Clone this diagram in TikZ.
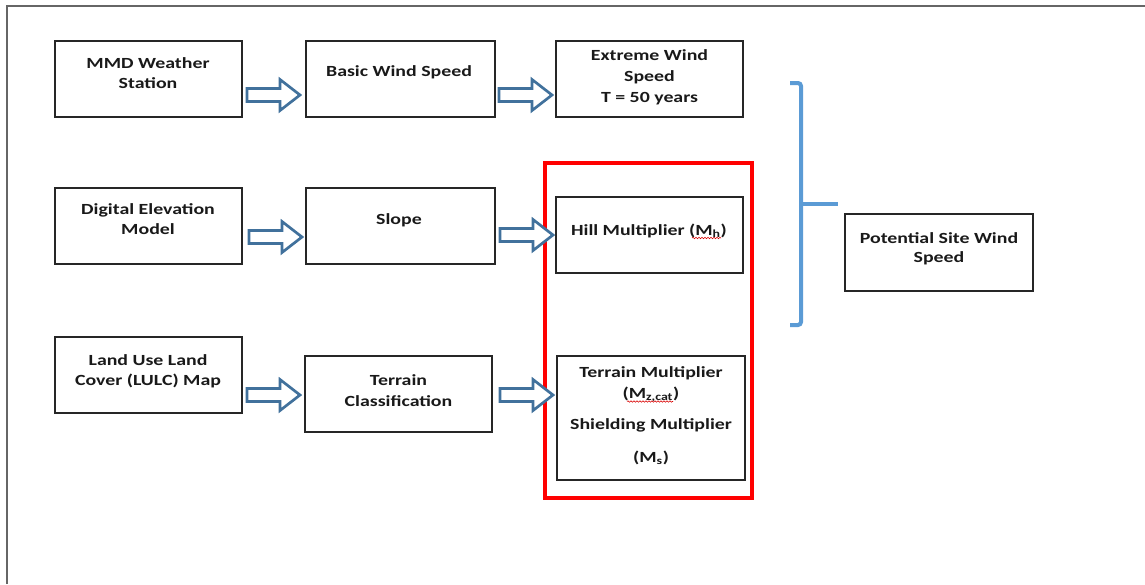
\documentclass[tikz,border=0pt]{standalone}
\usepackage{fontspec}
\setmainfont{Carlito}
\usepackage{graphicx}
\usetikzlibrary{decorations.pathmorphing}
\definecolor{arrblue}{HTML}{41719C}
\definecolor{brblue}{HTML}{5B9BD5}
\definecolor{framegray}{HTML}{666666}
\newcommand\T[1]{\scalebox{1.28}[1]{\begin{tabular}{@{}c@{}}#1\end{tabular}}}
\newcommand\barrow[2]{\draw[barrowsty] (#1,#2-6.5) -- ++(33,0) -- ++(0,-9) -- ++(20,15.5) -- ++(-20,15.5) -- ++(0,-9) -- ++(-33,0) -- cycle;}
\tikzset{
  box/.style={draw=black!85, line width=1.3pt, fill=none, inner sep=0, rectangle},
  txt/.style={inner sep=0, anchor=north, font=\fontsize{15.5}{20}\selectfont\bfseries, text=black!90},
  txtw/.style={txt, font=\fontsize{15.5}{21}\selectfont\bfseries},
  txtn/.style={txt, font=\fontsize{15.5}{19}\selectfont\bfseries},
  barrowsty/.style={draw=arrblue, line width=2.7pt, fill=white, line join=miter},
  squig/.style={draw=red!85!black, line width=0.6pt, decorate, decoration={snake, amplitude=0.7pt, segment length=3pt}},
}
\begin{document}
\begin{tikzpicture}[x=1pt, y=-1pt]
\useasboundingbox (0,0) rectangle (1145,584);
\draw[framegray, line width=2.2pt] (7,584) -- (7,6) -- (1145,6);
% boxes
\node[box, minimum width=187, minimum height=76] (mmd) at (148.5,79) {};
\node[box, minimum width=189, minimum height=76] (basic) at (400.5,79) {};
\node[box, minimum width=187, minimum height=76] (extreme) at (649.5,79) {};
\node[box, minimum width=187, minimum height=76] (dem) at (148.5,226) {};
\node[box, minimum width=189, minimum height=76] (slope) at (400.5,226) {};
\node[box, minimum width=187, minimum height=76] (hill) at (649.5,235) {};
\node[box, minimum width=187, minimum height=76] (lulc) at (148.5,375) {};
\node[box, minimum width=187, minimum height=76] (terr) at (398.5,394) {};
\node[box, minimum width=188, minimum height=124] (tmult) at (651,418) {};
\node[box, minimum width=188, minimum height=77] (pot) at (939,252.5) {};
\node[draw=red, line width=3.5pt, minimum width=207, minimum height=335, inner sep=0] (redbox) at (648.5,330.5) {};
% texts
\node[txt] (tmmd) at (148,54) {\T{MMD Weather\\Station}};
\node[txt] (tbasic) at (399,62) {\T{Basic Wind Speed}};
\node[txtw] (textreme) at (649.5,46) {\T{Extreme Wind\\Speed\\T = 50 years}};
\node[txt] (tdem) at (148,200) {\T{Digital Elevation\\Model}};
\node[txt] (tslope) at (399,210) {\T{Slope}};
\node[txt] (thill) at (649,221) {\T{Hill Multiplier (M\textsubscript{h})}};
\node[txt] (tlulc) at (148,351) {\T{Land Use Land\\Cover (LULC) Map}};
\node[txtw] (tterr) at (398.5,370.3) {\T{Terrain\\Classification}};
\node[txtw] (ttmult) at (651,362.3) {\T{Terrain Multiplier\\(M\textsubscript{z,cat})\\[10pt]Shielding Multiplier\\[12pt](M\textsubscript{s})}};
\node[txtn] (tpot) at (939,229.7) {\T{Potential Site Wind\\Speed}};
% spell-check squiggles
\draw[squig] (692,238) -- (721,238);
\draw[squig] (627,401.5) -- (673,401.5);
% block arrows
\barrow{247}{95}
\barrow{499}{95}
\barrow{249}{237}
\barrow{500}{235}
\barrow{247}{395}
\barrow{500}{395}
% bracket
\draw[brblue, line width=4pt, rounded corners=3pt] (790,83) -- (801,83) -- (801,325) -- (790,325);
\draw[brblue, line width=4pt] (801,204) -- (838,204);
\end{tikzpicture}
\end{document}
